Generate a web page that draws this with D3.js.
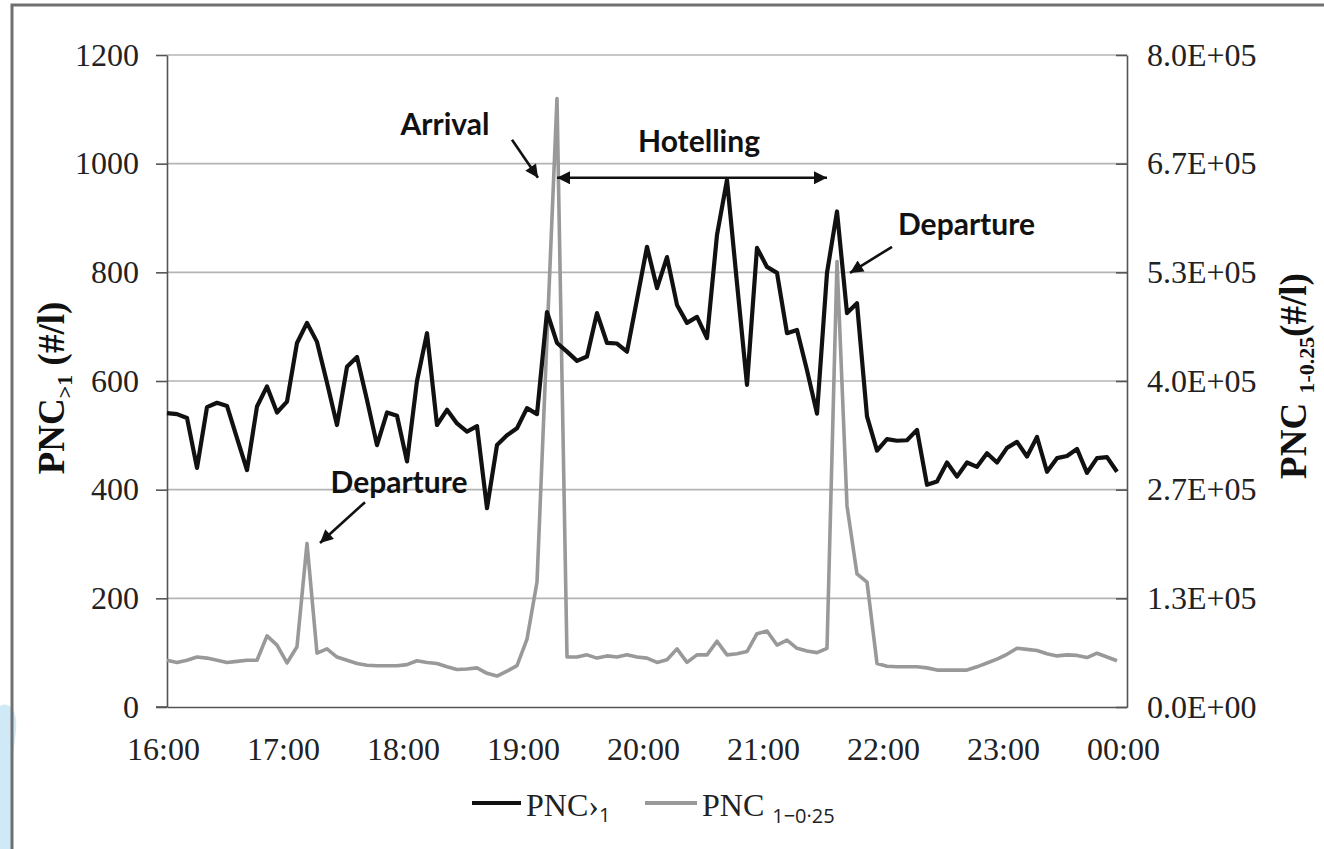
<!DOCTYPE html>
<html><head><meta charset="utf-8">
<script src="https://cdn.jsdelivr.net/npm/d3@7"></script>
<style>body{margin:0;background:#fff}svg{display:block}</style>
</head><body><svg id="c" width="1324" height="849"></svg>
<script>
// ---- data ----
const startHour = 16;          // series start 16:00
const stepMinutes = 5;         // sampling interval
const pncGt1 = [541,539,532,440,552,560,554,495,436,553,
  590,542,562,670,707,672,597,519,626,644,
  565,482,542,536,452,600,688,519,547,522,
  507,517,366,482,500,513,550,539,727,670,
  654,637,645,725,670,669,654,750,847,771,
  828,740,707,718,679,869,970,780,593,845,
  810,799,688,694,620,540,799,912,725,743,
  535,472,493,490,491,510,409,415,450,424,
  450,442,467,450,477,488,461,497,433,458,
  462,475,431,458,460,433];
const pnc1to025 = [57300,54700,57300,61300,60000,57300,54700,56000,57300,57300,
  87300,76000,54000,74000,200700,66000,71300,61300,57300,53300,
  51300,50700,50700,50700,52000,56700,54700,53300,49300,46000,
  46700,48000,41300,38000,44000,50700,83300,153300,453300,746700,
  61300,61300,64000,60000,62700,61300,64000,61300,60000,54700,
  58000,71300,54700,64000,64000,80700,64000,65300,68000,90000,
  93300,76000,82000,72000,68700,66700,72000,546700,246700,163300,
  153300,53300,50000,49300,49300,49300,48000,45300,45300,45300,
  45300,49300,54000,58700,64700,72000,70700,69300,65300,62700,
  64000,63300,60700,66000,61300,56700];
const hourLabels = ["16:00","17:00","18:00","19:00","20:00","21:00","22:00","23:00","00:00"];
const leftTicks = [0,200,400,600,800,1000,1200];
const rightTickValues = [0,133333,266667,400000,533333,666667,800000];
const rightTickLabels = ["0.0E+00","1.3E+05","2.7E+05","4.0E+05","5.3E+05","6.7E+05","8.0E+05"];
// annotations in data coordinates (minutes after 16:00, left-axis value)
const labels = [
  {text:"Arrival", t:139, v:1053, anchor:"middle"},
  {text:"Hotelling", t:266, v:1021, anchor:"middle"},
  {text:"Departure", t:365.5, v:869, anchor:"start"},
  {text:"Departure", t:116, v:394, anchor:"middle"}
];
const arrows = [
  {t1:172.5, v1:1044, t2:185.5, v2:974, both:false},
  {t1:195, v1:974, t2:330, v2:974, both:true},
  {t1:362.5, v1:847, t2:341.5, v2:799, both:false},
  {t1:99, v1:377, t2:76.5, v2:302, both:false}
];

// ---- layout ----
const L = 167, R = 1127, T = 55, B = 707;
const svg = d3.select("#c");
const serif = "'Liberation Serif','Times New Roman',serif";

const x = d3.scaleLinear().domain([0, 480]).range([L, R]);
const y = d3.scaleLinear().domain([0, 1200]).range([B, T]);
const y2 = d3.scaleLinear().domain([0, 800000]).range([B, T]);
const minutes = pncGt1.map((d, i) => i * stepMinutes);

// decorative light blue shape at bottom-left & frame
svg.append("path")
  .attr("d", "M0,706 C10,700 18,712 16,730 C14,748 12,760 12,780 L12,849 L0,849 Z")
  .attr("fill", "#cfe9f6");
svg.append("rect").attr("x", 12).attr("y", 5).attr("width", 1330).attr("height", 870)
  .attr("fill", "none").attr("stroke", "#707070").attr("stroke-width", 3);

// gridlines
svg.append("g").selectAll("line").data(leftTicks.filter(d => d > 0)).join("line")
  .attr("x1", L).attr("x2", R).attr("y1", d => y(d)).attr("y2", d => y(d))
  .attr("stroke", "#b4b4b4").attr("stroke-width", 1.6);

// left axis
const gl = svg.append("g").attr("transform", `translate(${L},0)`)
  .call(d3.axisLeft(y).tickValues(leftTicks).tickFormat(d3.format("d")).tickSizeInner(11).tickSizeOuter(0).tickPadding(17));
gl.select(".domain").attr("stroke", "#555").attr("stroke-width", 1.6);
gl.selectAll(".tick line").attr("stroke", "#555").attr("stroke-width", 1.6);
gl.selectAll("text").attr("font-family", serif).attr("font-size", 32).attr("fill", "#222");

// right axis
const gr = svg.append("g").attr("transform", `translate(${R},0)`)
  .call(d3.axisRight(y2).tickValues(rightTickValues).tickFormat((d, i) => rightTickLabels[i]).tickSizeInner(-11).tickSizeOuter(0).tickPadding(20));
gr.select(".domain").attr("stroke", "#555").attr("stroke-width", 1.6);
gr.selectAll(".tick line").attr("stroke", "#555").attr("stroke-width", 1.6);
gr.selectAll("text").attr("font-family", serif).attr("font-size", 32).attr("fill", "#222");

// bottom axis
const gb = svg.append("g").attr("transform", `translate(0,${B})`)
  .call(d3.axisBottom(x).tickValues(d3.range(0, 481, 60)).tickFormat((d, i) => hourLabels[i]).tickSize(0).tickPadding(30));
gb.select(".domain").attr("stroke", "#555").attr("stroke-width", 1.6);
gb.selectAll("text").attr("font-family", serif).attr("font-size", 32).attr("fill", "#222").attr("dx", -4);
svg.append("line").attr("x1", L - 11).attr("x2", L).attr("y1", B).attr("y2", B).attr("stroke", "#555").attr("stroke-width", 1.6);

// series lines
const lineGrey = d3.line().x((d, i) => x(minutes[i])).y(d => y2(d));
const lineBlack = d3.line().x((d, i) => x(minutes[i])).y(d => y(d));
svg.append("path").datum(pnc1to025).attr("d", lineGrey)
  .attr("fill", "none").attr("stroke", "#999").attr("stroke-width", 3.6).attr("stroke-linejoin", "round");
svg.append("path").datum(pncGt1).attr("d", lineBlack)
  .attr("fill", "none").attr("stroke", "#111").attr("stroke-width", 4.2).attr("stroke-linejoin", "round");

// arrow markers
const defs = svg.append("defs");
defs.append("marker").attr("id", "ah").attr("viewBox", "0 0 10 10").attr("refX", 10).attr("refY", 5)
  .attr("markerWidth", 16).attr("markerHeight", 13).attr("markerUnits", "userSpaceOnUse").attr("orient", "auto-start-reverse")
  .append("path").attr("d", "M0,0 L10,5 L0,10 Z").attr("fill", "#111");
svg.append("g").selectAll("line").data(arrows).join("line")
  .attr("x1", d => x(d.t1)).attr("y1", d => y(d.v1)).attr("x2", d => x(d.t2)).attr("y2", d => y(d.v2))
  .attr("stroke", "#111").attr("stroke-width", 2.6)
  .attr("marker-end", "url(#ah)")
  .attr("marker-start", d => d.both ? "url(#ah)" : null);

svg.append("g").selectAll("text").data(labels).join("text")
  .attr("x", d => x(d.t)).attr("y", d => y(d.v)).attr("text-anchor", d => d.anchor)
  .attr("font-family", "Lato, 'Open Sans', sans-serif").attr("font-weight", 700).attr("font-size", 30).attr("fill", "#111")
  .text(d => d.text);

// axis titles
const lt = svg.append("text").attr("transform", "translate(64,388) rotate(-90)").attr("text-anchor", "middle")
  .attr("font-family", serif).attr("font-weight", 700).attr("font-size", 37).attr("fill", "#111");
lt.append("tspan").text("PNC");
lt.append("tspan").attr("font-size", 22).attr("dy", 8).text(">1");
lt.append("tspan").attr("dy", -8).text(" (#/l)");

const rt = svg.append("text").attr("transform", "translate(1306,376) rotate(-90)").attr("text-anchor", "middle")
  .attr("font-family", serif).attr("font-weight", 700).attr("font-size", 37).attr("fill", "#111");
rt.append("tspan").text("PNC ");
rt.append("tspan").attr("font-size", 22).attr("dy", 8).text("1-0.25");
rt.append("tspan").attr("dy", -8).text("(#/l)");

// legend
const lg = svg.append("g");
lg.append("line").attr("x1", 472).attr("x2", 521).attr("y1", 803).attr("y2", 803).attr("stroke", "#111").attr("stroke-width", 4.2);
const l1 = lg.append("text").attr("x", 526).attr("y", 816).attr("font-family", serif).attr("font-size", 32).attr("fill", "#222");
l1.append("tspan").text("PNC›");
l1.append("tspan").attr("font-family", "'Open Sans', sans-serif").attr("font-size", 20).attr("dy", 6).text("1");
lg.append("line").attr("x1", 645).attr("x2", 697).attr("y1", 803).attr("y2", 803).attr("stroke", "#999").attr("stroke-width", 4);
const l2 = lg.append("text").attr("x", 702).attr("y", 816).attr("font-family", serif).attr("font-size", 32).attr("fill", "#222");
l2.append("tspan").text("PNC ");
l2.append("tspan").attr("font-family", "'Open Sans', sans-serif").attr("font-size", 20).attr("dy", 7).text("1−0·25");
</script>
</body></html>
